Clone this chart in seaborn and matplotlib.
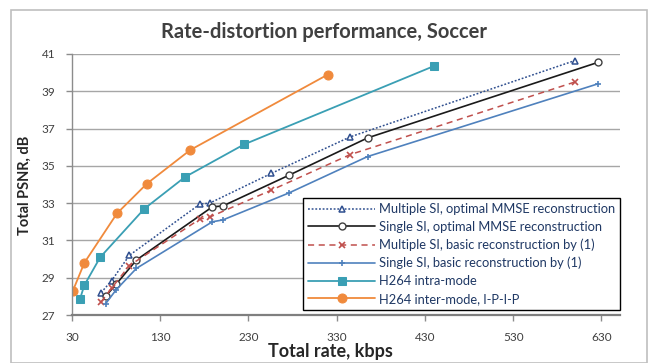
import matplotlib
matplotlib.use("Agg")
import matplotlib.pyplot as plt
import seaborn as sns
import pandas as pd
from matplotlib.patches import Rectangle

# ---- data ----
multi_rate = [63, 75, 95, 175, 186, 256, 345, 600]
single_rate = [68, 80, 103, 189, 201, 276, 365, 626]
multi_mmse_psnr = [28.2, 28.85, 30.2, 32.95, 33.0, 34.6, 36.55, 40.65]
single_mmse_psnr = [28.0, 28.65, 29.95, 32.8, 32.85, 34.5, 36.5, 40.55]
multi_basic_psnr = [27.7, 28.45, 29.65, 32.15, 32.25, 33.7, 35.6, 39.5]
single_basic_psnr = [27.6, 28.35, 29.5, 32.0, 32.1, 33.55, 35.5, 39.4]
intra_rate = [39, 44, 62, 112, 158, 225, 440]
intra_psnr = [27.85, 28.6, 30.1, 32.7, 34.4, 36.15, 40.35]
inter_rate = [31, 44, 81, 115, 164, 320]
inter_psnr = [28.3, 29.8, 32.45, 34.05, 35.85, 39.9]

labels = ["Multiple SI, optimal MMSE reconstruction",
          "Single SI, optimal MMSE reconstruction",
          "Multiple SI, basic reconstruction by (1)",
          "Single SI, basic reconstruction by (1)",
          "H264 intra-mode",
          "H264 inter-mode, I-P-I-P"]
x_ticks = [30, 130, 230, 330, 430, 530, 630]
y_ticks = [27, 29, 31, 33, 35, 37, 39, 41]

sns.set_theme(style="white")
plt.rcParams['font.family'] = ['Lato', 'DejaVu Sans']

W, H = 652, 363
fig = plt.figure(figsize=(W / 100, H / 100), dpi=100)
ax = fig.add_axes([72 / W, 1 - 315 / H, (620 - 72) / W, (315 - 54) / H])

series = [
    (multi_rate, multi_mmse_psnr, dict(color="#2F4F8F", linestyle=(0, (1.2, 1.2)), lw=1.1,
                                        marker="^", ms=5, mfc="white", mec="#2F4F8F", mew=1.1)),
    (single_rate, single_mmse_psnr, dict(color="#1a1a1a", linestyle="-", lw=1.2,
                                          marker="o", ms=5, mfc="white", mec="#404040", mew=1.0)),
    (multi_rate, multi_basic_psnr, dict(color="#C0504D", linestyle=(0, (4, 3)), lw=1.1,
                                         marker="x", ms=5, mec="#C0504D", mew=1.2)),
    (single_rate, single_basic_psnr, dict(color="#4F81BD", linestyle="-", lw=1.2,
                                           marker="+", ms=5, mec="#4F81BD", mew=1.2)),
    (intra_rate, intra_psnr, dict(color="#3A9FB4", linestyle="-", lw=1.3,
                                   marker="s", ms=6, mfc="#3A9FB4", mec="#3A9FB4")),
    (inter_rate, inter_psnr, dict(color="#F08A3C", linestyle="-", lw=1.3,
                                   marker="o", ms=6.5, mfc="#F08A3C", mec="#F08A3C")),
]

for (xs, ys, kw), lab in zip(series, labels):
    df = pd.DataFrame({"rate": xs, "psnr": ys})
    sns.lineplot(data=df, x="rate", y="psnr", ax=ax, label=lab, sort=False, **kw)

ax.set_xlim(30, 651)
ax.set_ylim(27, 41)
ax.set_xticks(x_ticks)
ax.set_yticks(y_ticks)
ax.set_xlabel("")
ax.set_ylabel("")
ax.grid(axis="y", color="#A6A6A6", lw=1.0)
ax.grid(axis="x", visible=False)
for s in ["top", "right"]:
    ax.spines[s].set_visible(False)
ax.spines["left"].set_color("#8C8C8C")
ax.spines["left"].set_linewidth(1.0)
ax.spines["bottom"].set_color("#7F7F7F")
ax.spines["bottom"].set_linewidth(1.6)
ax.tick_params(axis="both", which="major", direction="out", length=4, width=1,
               color="#8C8C8C", labelsize=8.5, labelcolor="#404040", pad=8, left=True, bottom=True)
ax.tick_params(axis="x", pad=8)
ax.set_axisbelow(True)

leg = ax.legend(loc="lower left", bbox_to_anchor=(303 / W, 1 - 310 / H),
                bbox_transform=fig.transFigure, fontsize=9.3, frameon=True, fancybox=False,
                edgecolor="#000000", framealpha=1, handlelength=5.2, handletextpad=0.25,
                labelspacing=0.44, borderpad=0.4, borderaxespad=0)
leg.get_frame().set_linewidth(1.0)
for t in leg.get_texts():
    t.set_color("#1F3864")

fig.text(324 / W, 1 - 32 / H, "Rate-distortion performance, Soccer", ha="center", va="center",
         fontsize=14.5, fontweight="bold", color="#404040")
fig.text(330 / W, 1 - 352 / H, "Total rate, kbps", ha="center", va="center",
         fontsize=13, fontweight="bold", color="#262626")
fig.text(25 / W, 1 - 185 / H, "Total PSNR, dB", ha="center", va="center", rotation=90,
         fontsize=10.5, fontweight="bold", color="#262626")

fig.patches.append(Rectangle((11 / W, 0.0), (647 - 11) / W, 1 - 10 / H - 0.0,
                             transform=fig.transFigure, fill=False, edgecolor="#BFBFBF", lw=1.2))

fig.savefig("out.png", dpi=100)
